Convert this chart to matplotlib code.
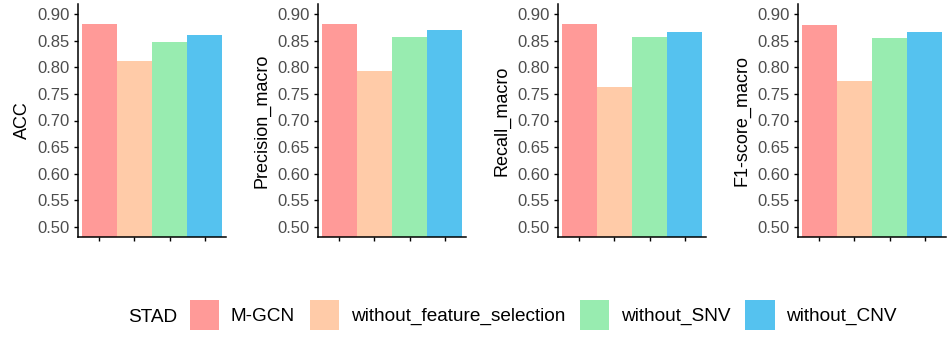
import matplotlib.pyplot as plt
from matplotlib.patches import Patch

plt.rcParams['font.family'] = ['Liberation Sans', 'DejaVu Sans']

models = ['M-GCN', 'without_feature_selection', 'without_SNV', 'without_CNV']
colors = ['#FF9A98', '#FFCBA8', '#98ECB0', '#55C2EF']
metrics = ['ACC', 'Precision_macro', 'Recall_macro', 'F1-score_macro']

acc = [0.881, 0.812, 0.847, 0.861]
precision = [0.881, 0.793, 0.857, 0.870]
recall = [0.882, 0.762, 0.857, 0.866]
f1 = [0.880, 0.774, 0.855, 0.866]
values = [acc, precision, recall, f1]

yticks = [0.50, 0.55, 0.60, 0.65, 0.70, 0.75, 0.80, 0.85, 0.90]

W, H = 948, 339
fig = plt.figure(figsize=(W / 100, H / 100), dpi=100)

lefts = [78, 318, 558, 798]
top, bottom, width = 4, 237, 148
x = [1, 2, 3, 4]

for left, metric, vals in zip(lefts, metrics, values):
    ax = fig.add_axes([left / W, (H - bottom) / H, width / W, (bottom - top) / H])
    ax.bar(x, vals, width=1.0, color=colors)
    ax.set_xlim(0.4, 4.6)
    ax.set_ylim(0.4812, 0.9188)
    ax.set_yticks(yticks)
    ax.set_yticklabels([f'{v:.2f}' for v in yticks])
    ax.set_xticks(x)
    ax.set_xticklabels([])
    ax.set_ylabel(metric, fontsize=13, labelpad=5)
    for side in ['top', 'right']:
        ax.spines[side].set_visible(False)
    for side in ['left', 'bottom']:
        ax.spines[side].set_linewidth(1.1)
    ax.tick_params(axis='both', length=3.2, width=1.0, color='black',
                   labelsize=12, labelcolor='#4D4D4D', pad=2.5)

handles = [Patch(facecolor=c, edgecolor='none') for c in colors]
fig.text(128 / W, (H - 316) / H, 'STAD', fontsize=13.7, va='center_baseline', ha='left')
fig.legend(handles, models, loc='center left', bbox_to_anchor=(190 / W, (H - 315) / H),
           ncol=4, frameon=False, fontsize=13.7, borderpad=0, borderaxespad=0,
           handlelength=1.55, handleheight=2.0, handletextpad=0.6,
           columnspacing=0.78)

fig.savefig('out.png', dpi=100)
